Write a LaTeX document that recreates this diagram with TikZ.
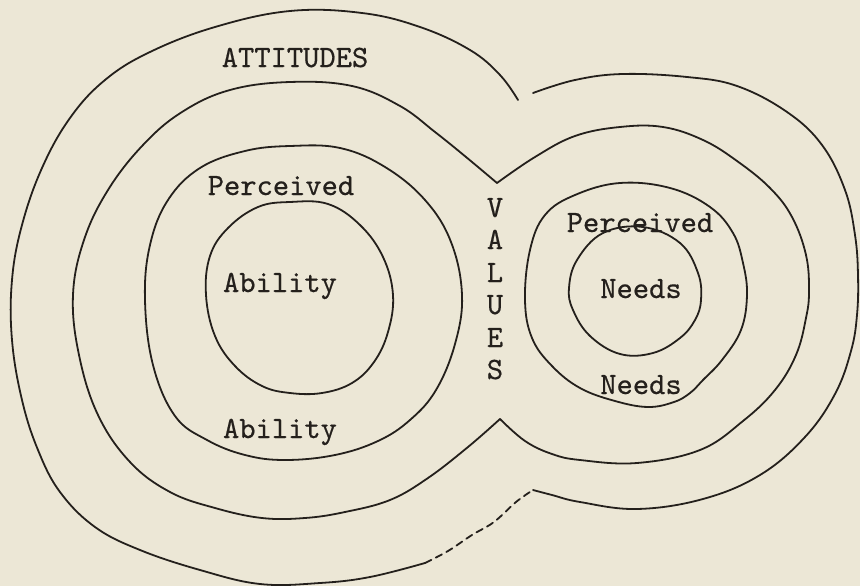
\documentclass[tikz,border=0pt]{standalone}
\usepackage{fontspec}
\newfontfamily\twfont[FakeBold=0.5]{lmmono10-regular.otf}
\definecolor{paper}{RGB}{236,231,214}
\definecolor{ink}{RGB}{36,32,28}
\begin{document}
\begin{tikzpicture}[x=1pt,y=-1pt,
  ring/.style={draw=ink,line width=1.8pt,line cap=round,line join=round},
  broken/.style={ring,dash pattern=on 7pt off 5pt},
  lbl/.style={font=\fontsize{31}{37}\selectfont\twfont,text=ink,anchor=base,inner sep=0pt}]
\fill[paper] (0,0) rectangle (860,586);
\useasboundingbox (0,0) rectangle (860,586);

% outer ATTITUDES boundary, left lobe
\draw[ring] plot[smooth,tension=0.65] coordinates {
 (518,100) (500,75) (470,50) (420,27) (362,13) (290,11) (215,27) (150,52)
 (105,80) (70,118) (42,168) (22,225) (12,280) (12,340) (22,400) (38,450)
 (60,492) (95,527) (140,550) (200,570) (260,584) (320,583) (370,577) (425,563)};
\draw[broken] plot[smooth,tension=0.6] coordinates {
 (425,563) (448,551) (472,535) (494,522) (516,502) (533,490)};
% outer boundary, right lobe
\draw[ring] plot[smooth,tension=0.65] coordinates {
 (533,490) (552,495) (580,502) (637,509) (703,499) (760,475) (805,437)
 (835,394) (851,351) (857,315) (858,275) (855,235) (845,190) (822,145)
 (787,112) (737,86) (687,77) (623,74) (575,80) (533,93)};

% VALUES boundary (peanut)
\draw[ring] plot[smooth,tension=0.65] coordinates {
 (497,183) (466,157) (435,132) (400,106) (352,86) (290,82) (230,90)
 (182,112) (143,145) (108,190) (84,240) (73,295) (79,355) (98,415)
 (130,462) (170,492) (215,508) (262,518) (305,518) (345,512) (390,500)
 (428,478) (468,447) (500,419)};
\draw[ring] plot[smooth,tension=0.65] coordinates {
 (500,419) (525,441) (552,454) (580,460) (637,463) (700,450) (743,421)
 (775,390) (796,355) (806,318) (809,291) (806,255) (792,217) (770,188)
 (737,161) (703,140) (663,127) (620,127) (575,136) (535,157) (497,183)};

% Perceived ability
\draw[ring] plot[smooth cycle,tension=0.65] coordinates {
 (290,146) (340,148) (385,167) (425,200) (451,242) (462,295) (455,344)
 (436,390) (410,420) (378,441) (335,455) (285,460) (245,455) (207,440)
 (175,416) (153,365) (145,300) (150,245) (168,200) (200,168) (245,151)};
% Ability
\draw[ring] plot[smooth cycle,tension=0.65] coordinates {
 (290,202) (328,204) (360,225) (383,257) (393,295) (388,332) (374,362)
 (352,383) (322,393) (290,393) (262,386) (235,366) (215,336) (206,295)
 (210,256) (228,228) (258,207)};

% Perceived needs
\draw[ring] plot[smooth cycle,tension=0.65] coordinates {
 (620,183) (670,188) (710,207) (733,233) (743,263) (747,295) (741,330)
 (722,360) (703,380) (690,393) (674,402) (648,407) (615,401) (580,388)
 (552,366) (532,338) (525,300) (530,250) (545,215) (575,195)};
% Needs
\draw[ring] plot[smooth cycle,tension=0.65] coordinates {
 (603,233) (643,227) (680,243) (698,273) (701,300) (695,320) (680,338)
 (653,353) (620,354) (590,336) (573,310) (569,288) (577,260)};

% labels
\node[lbl] (att) at (295,67) {ATTITUDES};
\node[lbl] (pa) at (281,195) {Perceived};
\node[lbl] (ab1) at (280,292) {Ability};
\node[lbl] (ab2) at (280,438) {Ability};
\node[lbl] (pn) at (640,232) {Perceived};
\node[lbl] (nd1) at (641,298) {Needs};
\node[lbl] (nd2) at (641,394) {Needs};
\node[lbl] (v1) at (495,217) {V};
\node[lbl] (v2) at (495,249) {A};
\node[lbl] (v3) at (495,282) {L};
\node[lbl] (v4) at (495,314) {U};
\node[lbl] (v5) at (495,347) {E};
\node[lbl] (v6) at (495,379) {S};
\end{tikzpicture}
\end{document}
